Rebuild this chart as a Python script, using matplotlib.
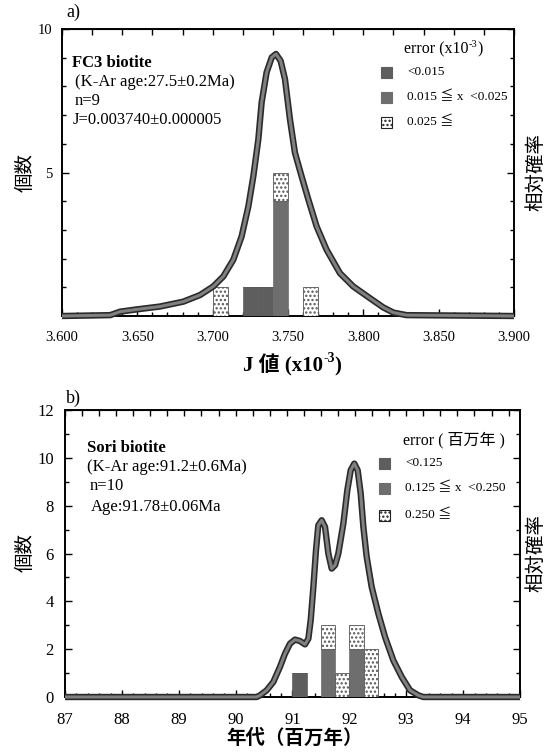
import matplotlib
matplotlib.use("Agg")
import matplotlib.pyplot as plt
from matplotlib.patches import Rectangle
import numpy as np

# ---------------- data ----------------
# panel a) J values (x10^-3)
a_bin_left = [3.700, 3.720, 3.730, 3.740, 3.760]
a_bin_width = 0.01
a_err_lt = [0, 1, 1, 0, 0]        # error < 0.015
a_err_mid = [0, 0, 0, 4, 0]       # 0.015 <= x < 0.025
a_err_hi = [1, 0, 0, 1, 1]        # 0.025 <=
a_curve_x = [3.600, 3.632, 3.6385, 3.6496, 3.6650, 3.6805, 3.6916, 3.7004, 3.7071,
             3.7137, 3.7192, 3.7237, 3.7270, 3.7303, 3.7325, 3.7358, 3.7392, 3.7420,
             3.7451, 3.7480, 3.7513, 3.7546, 3.7590, 3.7635, 3.7690, 3.7756, 3.7845,
             3.7933, 3.8044, 3.8132, 3.8199, 3.8287, 3.900]
a_curve_y = [0.0, 0.03, 0.15, 0.23, 0.33, 0.50, 0.73, 1.03, 1.38,
             1.96, 2.77, 3.82, 4.87, 6.15, 7.44, 8.49, 9.01, 9.13,
             8.89, 8.25, 6.85, 5.69, 4.87, 4.06, 3.12, 2.31, 1.49,
             1.03, 0.62, 0.30, 0.12, 0.03, 0.0]
a_xticks = [3.600, 3.650, 3.700, 3.750, 3.800, 3.850, 3.900]
a_xticklabels = ["3.600", "3.650", "3.700", "3.750", "3.800", "3.850", "3.900"]

# panel b) ages (Ma)
b_bin_left = [91.00, 91.25, 91.50, 91.75, 92.00, 92.25]
b_bin_width = 0.25
b_err_lt = [1, 0, 0, 0, 0, 0]     # < 0.125
b_err_mid = [0, 0, 2, 0, 2, 0]    # 0.125 <= x < 0.250
b_err_hi = [0, 0, 1, 1, 1, 2]     # 0.250 <=
b_curve_x = [87.0, 90.37, 90.429, 90.546, 90.663, 90.780, 90.868, 90.956, 91.044,
             91.132, 91.220, 91.279, 91.320, 91.367, 91.413, 91.454, 91.513, 91.572,
             91.630, 91.689, 91.748, 91.806, 91.894, 91.964, 92.023, 92.087, 92.146,
             92.199, 92.246, 92.304, 92.392, 92.509, 92.627, 92.773, 92.920, 93.066,
             93.213, 93.30, 95.0]
b_curve_y = [0.0, 0.0, 0.07, 0.28, 0.63, 1.26, 1.81, 2.23, 2.40,
             2.34, 2.20, 2.44, 3.21, 4.60, 6.14, 7.18, 7.39, 7.11,
             6.00, 5.37, 5.51, 6.00, 7.25, 8.65, 9.48, 9.76, 9.48,
             8.51, 7.11, 5.86, 4.60, 3.49, 2.51, 1.53, 0.84, 0.28,
             0.07, 0.0, 0.0]
b_xticks = [87, 88, 89, 90, 91, 92, 93, 94, 95]

# ---------------- style ----------------
SERIF = ["Liberation Serif", "Noto Sans CJK JP", "DejaVu Sans"]
CJK = ["Noto Sans CJK JP", "DejaVu Sans"]
C_LT = "#5e5e5e"
C_MID = "#6e6e6e"
plt.rcParams["font.family"] = SERIF
plt.rcParams["hatch.linewidth"] = 1.1

W, H = 556, 753
fig = plt.figure(figsize=(W / 100, H / 100), dpi=100)


def P(x, y):
    return (x / W, 1 - y / H)


def style_axes(ax, xlim, ylim):
    ax.set_xlim(*xlim)
    ax.set_ylim(*ylim)
    for s in ax.spines.values():
        s.set_linewidth(1.4)
    ax.tick_params(which="both", direction="in", top=False, right=True,
                   labelsize=10.5, width=1.0)
    ax.tick_params(which="major", length=5)
    ax.tick_params(which="minor", length=3)


def bars(ax, left, width, lt, mid, hi):
    lt = np.array(lt); mid = np.array(mid); hi = np.array(hi)
    ax.bar(left, lt, width=width, align="edge", color=C_LT, edgecolor=C_LT,
           linewidth=0.5, zorder=3)
    ax.bar(left, mid, width=width, bottom=lt, align="edge", color=C_MID,
           edgecolor=C_MID, linewidth=0.5, zorder=3)
    ax.bar(left, hi, width=width, bottom=lt + mid, align="edge", color="white",
           edgecolor="#555555", hatch="....", linewidth=0.6, zorder=3)


def curve(ax, x, y):
    ax.plot(x, y, color="#2a2a2a", linewidth=4.6, solid_capstyle="butt",
            zorder=4, clip_on=False)
    ax.plot(x, y, color="#808080", linewidth=2.2, solid_capstyle="butt",
            zorder=5, clip_on=False)


def sup_text(x, y, base, sup, close, size, sup_size, weight="normal"):
    t1 = fig.text(x, y, base, fontsize=size, fontweight=weight, va="baseline",
                  ha="left", family=SERIF)
    t2 = plt.annotate(sup, xy=(1.0, 1.08), xycoords=t1, fontsize=sup_size,
                      fontweight=weight, va="top", ha="left", family=SERIF)
    plt.annotate(close, xy=(1.0, 0.0), xycoords=(t2, t1), fontsize=size,
                 fontweight=weight, va="bottom", ha="left", family=SERIF)
    return t1


def legend(x_sq, x_txt, ys, labels, hatches):
    for yy, lab, (fc, hat) in zip(ys, labels, hatches):
        fx, fy = P(x_sq, yy + 5.5)
        fig.patches.append(Rectangle((fx, fy), 11 / W, 11 / H, transform=fig.transFigure,
                                     facecolor=fc, edgecolor="#222222" if hat else fc,
                                     hatch=hat, linewidth=0.8, figure=fig))
        tx, ty = P(x_txt, yy)
        fig.text(tx, ty, lab, fontsize=9.5, va="center", ha="left", family=SERIF)


# ---------------- panel a ----------------
ax1 = fig.add_axes([62 / W, 1 - 316 / H, (514 - 62) / W, (316 - 29) / H])
style_axes(ax1, (3.6, 3.9), (0, 10))
bars(ax1, a_bin_left, a_bin_width, a_err_lt, a_err_mid, a_err_hi)
curve(ax1, a_curve_x, a_curve_y)
ax1.set_xticks(a_xticks)
ax1.set_xticklabels(a_xticklabels)
ax1.set_xticks(np.arange(3.6, 3.9001, 0.01), minor=True)
ax1.set_yticks([5, 10])
ax1.set_yticks(np.arange(0, 10.01, 1), minor=True)
ax1.tick_params(axis="x", which="both", pad=11)
ax1.tick_params(axis="y", which="both", pad=7)
sec = ax1.secondary_xaxis("top")
sec.set_xticks(np.arange(3.6, 3.9001, 0.02))
sec.tick_params(direction="in", length=4, labeltop=False, width=1.0)

fig.text(*P(66, 12), "a)", fontsize=13, va="center", ha="left", family=SERIF)
fig.text(*P(72, 63), "FC3 biotite", fontsize=12, fontweight="bold", va="center", family=SERIF)
fig.text(*P(75, 82), "(K-Ar age:27.5±0.2Ma)", fontsize=12, va="center", family=SERIF)
fig.text(*P(75, 101), "n=9", fontsize=12, va="center", family=SERIF)
fig.text(*P(73, 120), "J=0.003740±0.000005", fontsize=12, va="center", family=SERIF)

sup_text(*P(404, 53), "error (x10", "-3", ")", 11.5, 7.5)
legend(381, 407, [72, 97, 122],
       ["<0.015", "0.015 ≦ x  <0.025", "0.025 ≦"],
       [(C_LT, None), (C_MID, None), ("white", "....")])

sup_text(*P(243, 371), "J 値 (x10", "-3", ")", 15, 10, weight="bold")
fig.text(*P(25, 172), "個数", fontsize=14, rotation=90, va="center", ha="center", family=CJK)
fig.text(*P(536, 172), "相対確率", fontsize=14, rotation=90, va="center", ha="center", family=CJK)

# ---------------- panel b ----------------
ax2 = fig.add_axes([65 / W, 1 - 697 / H, (520 - 65) / W, (697 - 410) / H])
style_axes(ax2, (87, 95), (0, 12))
bars(ax2, b_bin_left, b_bin_width, b_err_lt, b_err_mid, b_err_hi)
curve(ax2, b_curve_x, b_curve_y)
ax2.set_xticks(b_xticks)
ax2.set_xticks(np.arange(87, 95.001, 0.2), minor=True)
ax2.set_yticks(np.arange(0, 12.01, 2))
ax2.set_yticks(np.arange(0, 12.01, 1), minor=True)
ax2.tick_params(axis="x", which="both", pad=11)
ax2.tick_params(axis="y", which="both", pad=8)
ax2.tick_params(labelsize=12)
sec2 = ax2.secondary_xaxis("top")
sec2.set_xticks(np.arange(87, 95.001, 0.3))
sec2.tick_params(direction="in", length=4, labeltop=False, width=1.0)

fig.text(*P(66, 398), "b)", fontsize=13, va="center", ha="left", family=SERIF)
fig.text(*P(87, 448), "Sori biotite", fontsize=12, fontweight="bold", va="center", family=SERIF)
fig.text(*P(87, 467), "(K-Ar age:91.2±0.6Ma)", fontsize=12, va="center", family=SERIF)
fig.text(*P(90, 486), "n=10", fontsize=12, va="center", family=SERIF)
fig.text(*P(91, 507), "Age:91.78±0.06Ma", fontsize=12, va="center", family=SERIF)

fig.text(*P(403, 440), "error ( 百万年 )", fontsize=11.5, va="center", ha="left", family=SERIF)
legend(379, 405, [463, 488, 515],
       ["<0.125", "0.125 ≦ x  <0.250", "0.250 ≦"],
       [(C_LT, None), (C_MID, None), ("white", "....")])

fig.text(*P(295, 738), "年代（百万年）", fontsize=14, fontweight="bold", va="center",
         ha="center", family=CJK)
fig.text(*P(25, 553), "個数", fontsize=14, rotation=90, va="center", ha="center", family=CJK)
fig.text(*P(536, 553), "相対確率", fontsize=14, rotation=90, va="center", ha="center", family=CJK)

fig.savefig("out.png", dpi=100)
